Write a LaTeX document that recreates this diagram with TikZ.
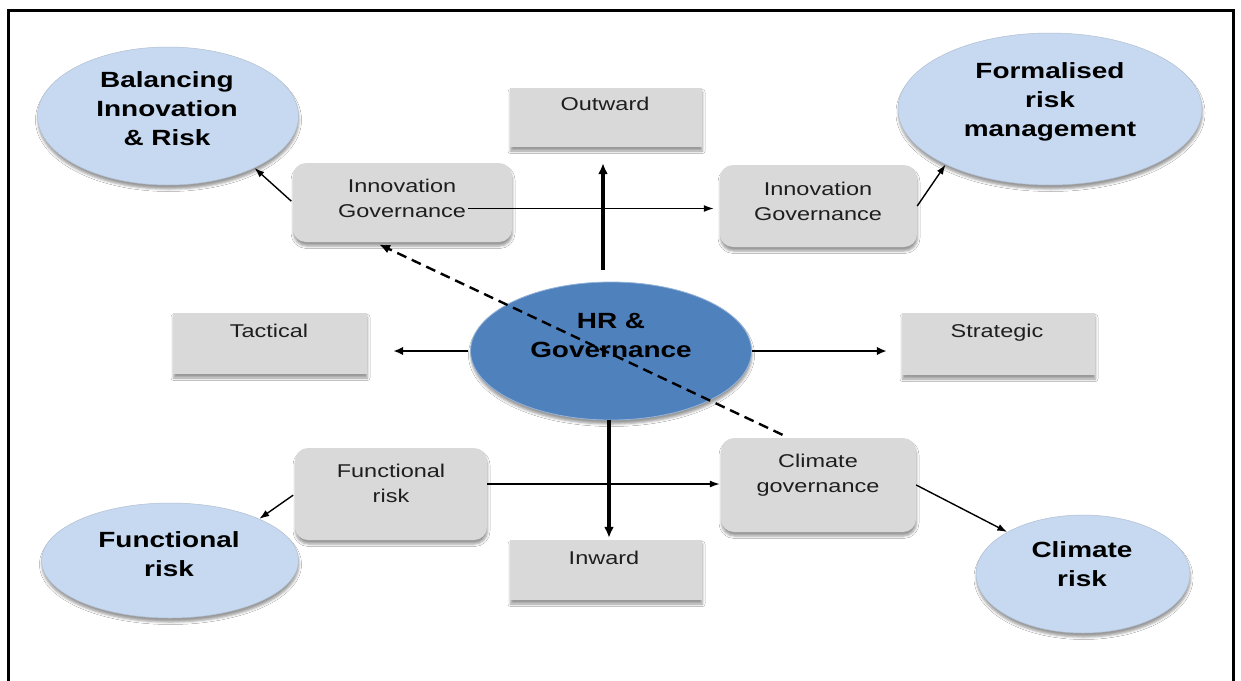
\documentclass[tikz,border=0pt]{standalone}
\usepackage{fontspec}
\setmainfont{Liberation Sans}[FakeStretch=1.27]
\usetikzlibrary{shapes.geometric,arrows.meta,shadows.blur}
\definecolor{boxgray}{RGB}{217,217,217}
\definecolor{lblue}{RGB}{198,217,240}
\definecolor{hrblue}{RGB}{79,129,189}
\definecolor{txtgray}{RGB}{30,30,30}
\tikzset{
  shade/.style={blur shadow={shadow xshift=0.5pt, shadow yshift=-4pt, shadow blur radius=2.5pt, shadow opacity=40}},
  sqbox/.style={rectangle, fill=boxgray, inner sep=0, shade},
  rbox/.style={sqbox, rounded corners=13pt},
  lell/.style={ellipse, fill=lblue, draw=lblue!85!black!90, line width=0.5pt, inner sep=0, shade},
  hrell/.style={ellipse, fill=hrblue, draw=hrblue!60!white, line width=0.8pt, inner sep=0, shade},
  boxtxt/.style={font=\fontsize{18.5}{25}\selectfont, text=txtgray, inner sep=0, align=center, anchor=north},
  elltxt/.style={font=\fontsize{22}{29}\selectfont\bfseries, text=black, inner sep=0, align=center, anchor=north},
  thinarrow/.style={line width=1.4pt, -{Latex[length=10pt,width=7pt]}},
  thickarrow/.style={line width=3.2pt, -{Latex[length=11pt,width=10pt]}},
  medarrow/.style={line width=2.4pt, -{Latex[length=10pt,width=8.5pt]}},
  dasharrow/.style={line width=2.4pt, dash pattern=on 10pt off 6pt, -{Latex[length=11pt,width=9pt]}},
}
\begin{document}
\begin{tikzpicture}[x=1pt,y=-1pt]
\useasboundingbox (0,0) rectangle (1241,680);
\fill[white] (0,0) rectangle (1241,680);
% frame
\draw[line width=3pt] (8,682) -- (8,10) -- (1233,10) -- (1233,682);

% ellipses
\node[lell, minimum width=261pt, minimum height=138pt] (bal) at (168,116) {};
\node[lell, minimum width=304pt, minimum height=152pt] (form) at (1050,109) {};
\node[lell, minimum width=257pt, minimum height=115pt] (fe) at (170,560.5) {};
\node[lell, minimum width=214pt, minimum height=118pt] (cr) at (1083,574) {};
\node[hrell, minimum width=281pt, minimum height=138pt] (hr) at (611,351) {};

% square boxes
\node[sqbox, minimum width=192pt, minimum height=59pt] (outward) at (606,117.5) {};
\node[sqbox, minimum width=194pt, minimum height=61pt] (tactical) at (270,343.5) {};
\node[sqbox, minimum width=193pt, minimum height=62pt] (strategic) at (998.5,344) {};
\node[sqbox, minimum width=192pt, minimum height=60pt] (inward) at (606,570) {};

% rounded boxes
\node[rbox, minimum width=219pt, minimum height=79pt] (innovL) at (402.5,202.5) {};
\node[rbox, minimum width=197pt, minimum height=82pt] (innovR) at (818.5,206) {};
\node[rbox, minimum width=192pt, minimum height=92pt] (funcbox) at (391,494) {};
\node[rbox, minimum width=195pt, minimum height=94pt] (climbox) at (818.5,485) {};

% texts
\node[boxtxt] (toutward) at (605,96.5) {Outward};
\node[boxtxt] (ttactical) at (269,323.5) {Tactical};
\node[boxtxt] (tstrategic) at (997,323.5) {Strategic};
\node[boxtxt] (tinward) at (604,550.5) {Inward};
\node[boxtxt] (tinnovL) at (402,178.5) {Innovation\\Governance};
\node[boxtxt] (tinnovR) at (818,181.5) {Innovation\\Governance};
\node[boxtxt] (tfunc) at (391,463.5) {Functional\\risk};
\node[boxtxt] (tclim) at (818,453.5) {Climate\\governance};

\node[elltxt] (tbal) at (167,71) {Balancing\\Innovation\\\& Risk};
\node[elltxt] (tform) at (1050,62) {Formalised\\risk\\management};
\node[elltxt] (tfe) at (169,531) {Functional\\risk};
\node[elltxt] (tcr) at (1082,541) {Climate\\risk};
\node[elltxt] (thr) at (611,313) {HR \&\\Governance};

% connectors
\draw[thickarrow, shorten <=12pt, shorten >=16pt] ([xshift=-8pt]hr.north) -- ([xshift=-3pt]outward.south);
\draw[thickarrow, shorten >=2pt] ([xshift=-2pt]hr.south) -- ([xshift=3pt]inward.north);
\draw[medarrow, shorten <=2pt, shorten >=26pt] (hr.west) -- (hr.west -| tactical.east);
\draw[medarrow, shorten >=15pt] (hr.east) -- (hr.east -| strategic.west);

\coordinate (iga) at ([xshift=-44pt,yshift=-6pt]innovL.east);
\draw[thinarrow, shorten >=6pt] (iga) -- (iga -| innovR.west);
\draw[thinarrow, shorten <=2pt] (innovL.west) -- (bal.-31);
\draw[thinarrow] (innovR.east) -- (form.208);

\draw[thinarrow, shorten <=2pt] (funcbox.west) -- (fe.25);
\coordinate (fba) at ([yshift=10pt]funcbox.east);
\draw[thinarrow, shorten >=1pt] (fba) -- (fba -| climbox.west);
\draw[thinarrow] (climbox.east) -- (cr.151);

\draw[dasharrow, shorten >=5pt] ([xshift=-36pt,yshift=3pt]climbox.north) -- ([xshift=-28pt]innovL.south);
\end{tikzpicture}
\end{document}
